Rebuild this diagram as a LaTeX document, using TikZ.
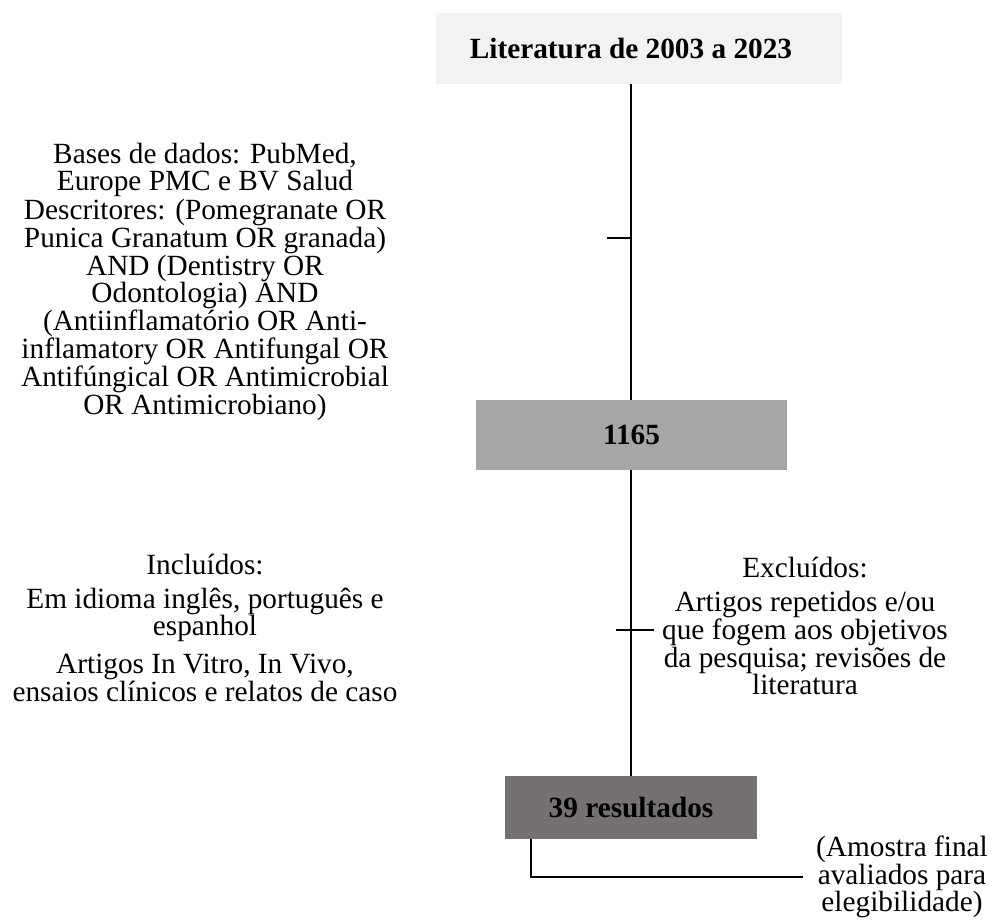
\documentclass[tikz,border=0pt]{standalone}
\usepackage{fontspec}
\setmainfont{Liberation Serif}
\definecolor{topgray}{HTML}{F2F2F2}
\definecolor{midgray}{HTML}{A6A6A6}
\definecolor{darkgray}{HTML}{767171}
\begin{document}
\begin{tikzpicture}[x=1pt,y=-1pt,
  every node/.style={inner sep=0pt, font=\fontsize{29.3}{26.5}\selectfont},
  boxnode/.style={minimum height=71pt, font=\fontsize{29.3}{26.5}\selectfont\bfseries},
  label/.style={align=center},
  conn/.style={line width=2.5pt}]
\useasboundingbox (0,0) rectangle (1004,919);
% boxes
\path[fill=topgray] (436,13) rectangle (842,84);
\node[boxnode, minimum width=322pt] (lit) at (631,48.5) {Literatura de 2003 a 2023};
\node[boxnode, fill=midgray, minimum width=311pt, minimum height=70pt] (n1165) at (631.5,435) {1165};
\node[boxnode, fill=darkgray, minimum width=252pt, minimum height=63pt] (n39) at (631,807.5) {39 resultados};
% connectors
\coordinate (t1) at (607,238);
\coordinate (t2a) at (616,630);
\coordinate (t2b) at (654,630);
\coordinate (b1) at (531,877);
\coordinate (b2) at (803,877);
\coordinate (top) at (631,84);
\draw[conn] (top) -- (n1165.north -| top);
\draw[conn] (t1) -- (t1 -| top);
\draw[conn] (n1165.south -| top) -- (n39.north -| top);
\draw[conn] (t2a) -- (t2b);
\draw[conn] (n39.south -| b1) -- (b1) -- (b2);
% texts
\node[label] (bases) at (205,170) {Bases de dados: PubMed,\\Europe PMC e BV Salud};
\node[label] (descr) at (205,310) {Descritores: (Pomegranate OR\\Punica Granatum OR granada)\\AND (Dentistry OR\\Odontologia) AND\\(Antiinflamatório OR Anti-\\inflamatory OR Antifungal OR\\Antifúngical OR Antimicrobial\\OR Antimicrobiano)};
\node[label] (incl) at (205,565) {Incluídos:};
\node[label] (idioma) at (205,615) {Em idioma inglês, português e\\espanhol};
\node[label] (artigos) at (205,678) {Artigos In Vitro, In Vivo,\\ensaios clínicos e relatos de caso};
\node[label] (excl) at (805,568) {Excluídos:};
\node[label] (exclt) at (805,643) {Artigos repetidos e/ou\\que fogem aos objetivos\\da pesquisa; revisões de\\literatura};
\node[label] (amostra) at (902,877) {(Amostra final\\avaliados para\\elegibilidade)};
\end{tikzpicture}
\end{document}
